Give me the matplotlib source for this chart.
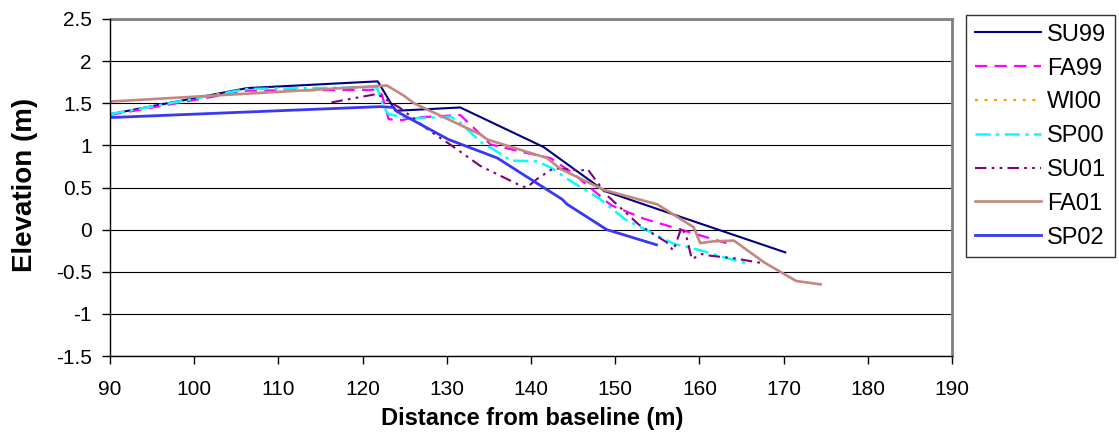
import matplotlib
matplotlib.use('Agg')
import matplotlib.pyplot as plt

plt.rcParams['font.family'] = ['Liberation Sans', 'DejaVu Sans']
plt.rcParams['axes.unicode_minus'] = False

# survey profiles: distance (m), elevation (m)
su99_x = [90, 106.3, 121.8, 123.9, 131.6, 141.5, 148.7, 157.8, 170.2]
su99_y = [1.37, 1.68, 1.76, 1.41, 1.45, 0.98, 0.46, 0.15, -0.27]

fa99_x = [90, 106.3, 121.7, 122.3, 123.1, 124.7, 126.0, 131.6, 133.6, 135.2,
          139.5, 142.3, 145.1, 149.5, 153.4, 157.8, 163.2]
fa99_y = [1.36, 1.65, 1.66, 1.60, 1.31, 1.30, 1.33, 1.36, 1.17, 1.01,
          0.91, 0.85, 0.66, 0.29, 0.13, 0.0, -0.16]

wi00_x = []
wi00_y = []

sp00_x = [90, 106.3, 121.7, 122.5, 123.1, 125.6, 130.4, 131.4, 134.0, 135.6,
          137.6, 140.7, 142.3, 144.5, 148.1, 151.2, 154.2, 157.0, 160.3, 163.3, 165.7]
sp00_y = [1.37, 1.67, 1.69, 1.45, 1.37, 1.32, 1.34, 1.29, 1.04, 0.95,
          0.82, 0.81, 0.74, 0.59, 0.37, 0.12, -0.03, -0.17, -0.25, -0.34, -0.40]

su01_x = [116.3, 121.7, 122.4, 124.5, 128.0, 130.4, 134.0, 138.8, 139.5, 140.7,
          142.7, 145.9, 146.7, 149.1, 152.8, 154.5, 156.1, 156.9, 157.9, 158.5,
          159.1, 160.3, 161.3, 164.1, 167.6]
su01_y = [1.51, 1.61, 1.57, 1.44, 1.17, 1.01, 0.755, 0.52, 0.50, 0.60,
          0.73, 0.70, 0.72, 0.40, 0.06, -0.05, -0.15, -0.25, 0.03, -0.10,
          -0.35, -0.29, -0.31, -0.34, -0.40]

fa01_x = [90, 122.9, 124.9, 126.1, 134.0, 134.8, 138.0, 141.9, 143.5, 148.7,
          155.0, 159.3, 160.1, 161.6, 164.1, 167.7, 171.5, 174.4]
fa01_y = [1.52, 1.71, 1.59, 1.50, 1.13, 1.07, 0.97, 0.85, 0.72, 0.47,
          0.30, 0.03, -0.16, -0.14, -0.13, -0.39, -0.61, -0.65]

sp02_x = [90, 122.1, 123.7, 124.1, 130.2, 136.0, 143.7, 144.3, 149.0, 154.9]
sp02_y = [1.33, 1.46, 1.45, 1.40, 1.07, 0.85, 0.36, 0.30, 0.0, -0.18]

y_ticks = [-1.5, -1, -0.5, 0, 0.5, 1, 1.5, 2, 2.5]
x_ticks = [90, 100, 110, 120, 130, 140, 150, 160, 170, 180, 190]

fig = plt.figure(figsize=(11.19, 4.45), dpi=100)
ax = fig.add_axes([110/1119, 1 - 356/445, (952 - 110)/1119, (356 - 19)/445])

# grid first so the profiles sit on top
for yv in y_ticks:
    ax.axhline(yv, color='black', lw=0.8, zorder=1)

ax.plot(su99_x, su99_y, color='#000080', lw=1.5, label='SU99', zorder=3)
ax.plot(fa99_x, fa99_y, color='#FF00FF', lw=1.6, ls=(0, (5.5, 3.3)), label='FA99', zorder=3)
ax.plot(wi00_x, wi00_y, color='#FF9900', lw=1.6, ls=(0, (1.3, 3.0)), label='WI00', zorder=3)
ax.plot(sp00_x, sp00_y, color='#00FFFF', lw=1.8, ls=(0, (6, 2.2, 1.3, 2.2)), label='SP00', zorder=3)
ax.plot(su01_x, su01_y, color='#800080', lw=1.5, ls=(0, (5.5, 2.5, 1.3, 2.5, 1.3, 2.5)), label='SU01', zorder=3)
ax.plot(fa01_x, fa01_y, color='#C4867F', lw=1.9, label='FA01', zorder=3)
ax.plot(sp02_x, sp02_y, color='#3838F5', lw=2.0, label='SP02', zorder=3)

ax.set_xlim(90, 190)
ax.set_ylim(-1.5, 2.5)
ax.set_xticks(x_ticks)
ax.set_yticks(y_ticks)
ax.set_yticklabels(['%g' % v for v in y_ticks])
ax.tick_params(axis='both', direction='out', length=6, width=1, color='black',
               labelsize=15)
ax.tick_params(axis='y', pad=7)
ax.tick_params(axis='x', pad=11)

for side in ['top', 'right']:
    ax.spines[side].set_color('#808080')
    ax.spines[side].set_linewidth(2)
for side in ['left', 'bottom']:
    ax.spines[side].set_color('black')
    ax.spines[side].set_linewidth(1)
    ax.spines[side].set_zorder(4)

ax.set_xlabel('Distance from baseline (m)', fontsize=17, fontweight='bold')
ax.set_ylabel('Elevation (m)', fontsize=20, fontweight='bold')
ax.xaxis.set_label_coords(0.501, -0.152)
ax.yaxis.set_label_coords(-0.085, 0.507)

leg = fig.legend(loc='upper left', bbox_to_anchor=(966/1119, 1 - 15/445),
                 frameon=True, fancybox=False, fontsize=17, borderpad=0.37,
                 labelspacing=0.5, handlelength=2.8, handletextpad=0.25,
                 borderaxespad=0)
leg.get_frame().set_edgecolor('black')
leg.get_frame().set_linewidth(1)

fig.savefig('out.png', dpi=100)
